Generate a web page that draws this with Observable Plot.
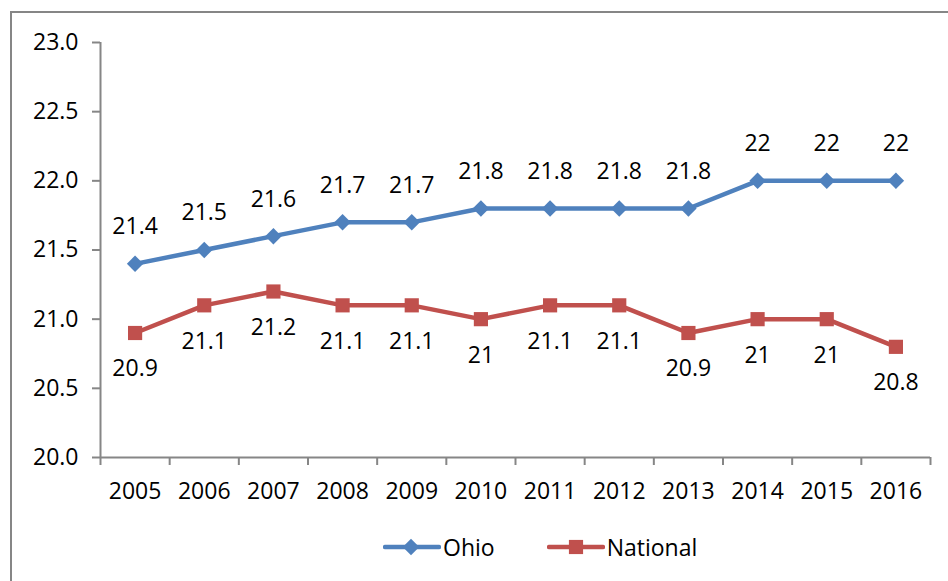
<!DOCTYPE html>
<html>
<head>
<meta charset="utf-8">
<script src="https://cdn.jsdelivr.net/npm/d3@7"></script>
<script src="https://cdn.jsdelivr.net/npm/@observablehq/plot@0.6"></script>
<style>
  html, body { margin: 0; padding: 0; background: #fff; overflow: hidden; }
  #wrap { position: relative; width: 948px; height: 581px; font-family: "Open Sans", sans-serif; }
  #border { position: absolute; left: 10px; top: 11px; width: 2000px; height: 2000px;
            border-left: 2px solid #868686; border-top: 2px solid #868686; box-sizing: border-box; }
  #chart { position: absolute; left: 0; top: 0; }
  #legend { position: absolute; left: 383px; top: 531px; display: flex; align-items: center;
            font-size: 23px; color: #000; }
  #legend .item { display: flex; align-items: center; }
  #legend svg { display: block; }
</style>
</head>
<body>
<div id="wrap">
  <div id="border"></div>
  <div id="chart"></div>
  <div id="legend"></div>
</div>
<script>
const years = [2005, 2006, 2007, 2008, 2009, 2010, 2011, 2012, 2013, 2014, 2015, 2016];
const ohio = [21.4, 21.5, 21.6, 21.7, 21.7, 21.8, 21.8, 21.8, 21.8, 22, 22, 22];
const national = [20.9, 21.1, 21.2, 21.1, 21.1, 21.0, 21.1, 21.1, 20.9, 21.0, 21.0, 20.8];
const yTicks = [20, 20.5, 21, 21.5, 22, 22.5, 23];
const seriesNames = ["Ohio", "National"];
const colors = ["#4F81BD", "#C0504D"];

const ohioData = years.map((y, i) => ({year: y, value: ohio[i]}));
const natData = years.map((y, i) => ({year: y, value: national[i]}));
const boundaries = [years[0] - 0.5, ...years.map(y => y + 0.5)];

const chart = Plot.plot({
  width: 948,
  height: 520,
  marginLeft: 100,
  marginRight: 18,
  marginTop: 42,
  marginBottom: 63,
  x: {domain: [years[0] - 0.5, years[years.length - 1] + 0.5]},
  y: {domain: [20, 23]},
  style: {fontFamily: "'Open Sans', sans-serif", fontSize: "23px", background: "transparent", color: "#000"},
  marks: [
    Plot.axisY({ticks: yTicks, tickFormat: d3.format(".1f"), tickSize: 8, tickPadding: 14,
                stroke: "#868686", strokeWidth: 2, fill: "#000", label: null}),
    Plot.axisX({ticks: boundaries, tickFormat: () => "", tickSize: 8, stroke: "#868686", strokeWidth: 2, label: null}),
    Plot.axisX({ticks: years, tickFormat: d => String(d), tickSize: 0, tickPadding: 25, fill: "#000", label: null}),
    Plot.ruleX([years[0] - 0.5], {stroke: "#868686", strokeWidth: 2}),
    Plot.ruleY([20], {stroke: "#868686", strokeWidth: 2}),
    Plot.line(ohioData, {x: "year", y: "value", stroke: colors[0], strokeWidth: 4.5}),
    Plot.line(natData, {x: "year", y: "value", stroke: colors[1], strokeWidth: 4.5}),
    Plot.dot(ohioData, {x: "year", y: "value", symbol: "diamond2", r: 7.4, fill: colors[0], stroke: "none"}),
    Plot.dot(natData, {x: "year", y: "value", symbol: "square", r: 8, fill: colors[1], stroke: "none"}),
    Plot.text(ohioData, {x: "year", y: "value", text: d => String(d.value), dy: -37, fill: "#000", fontSize: 23}),
    Plot.text(natData, {x: "year", y: "value", text: d => String(d.value), dy: 36, fill: "#000", fontSize: 23})
  ]
});
document.getElementById("chart").appendChild(chart);

// Legend
const legend = d3.select("#legend");
const symbols = [d3.symbolDiamond2, d3.symbolSquare];
const symSizes = [Math.PI * 55, Math.PI * 64];
seriesNames.forEach((name, i) => {
  const item = legend.append("div").attr("class", "item").style("margin-right", i === 0 ? "52px" : "0");
  const svg = item.append("svg").attr("width", 58).attr("height", 30);
  svg.append("line").attr("x1", 2).attr("x2", 56).attr("y1", 15).attr("y2", 15)
    .attr("stroke", colors[i]).attr("stroke-width", 4.5).attr("stroke-linecap", "round");
  svg.append("path").attr("transform", `translate(${i === 0 ? 28 : 29},15)`)
    .attr("d", d3.symbol(symbols[i], symSizes[i])()).attr("fill", colors[i]);
  item.append("span").text(name).style("margin-left", "2px");
});
</script>
</body>
</html>
